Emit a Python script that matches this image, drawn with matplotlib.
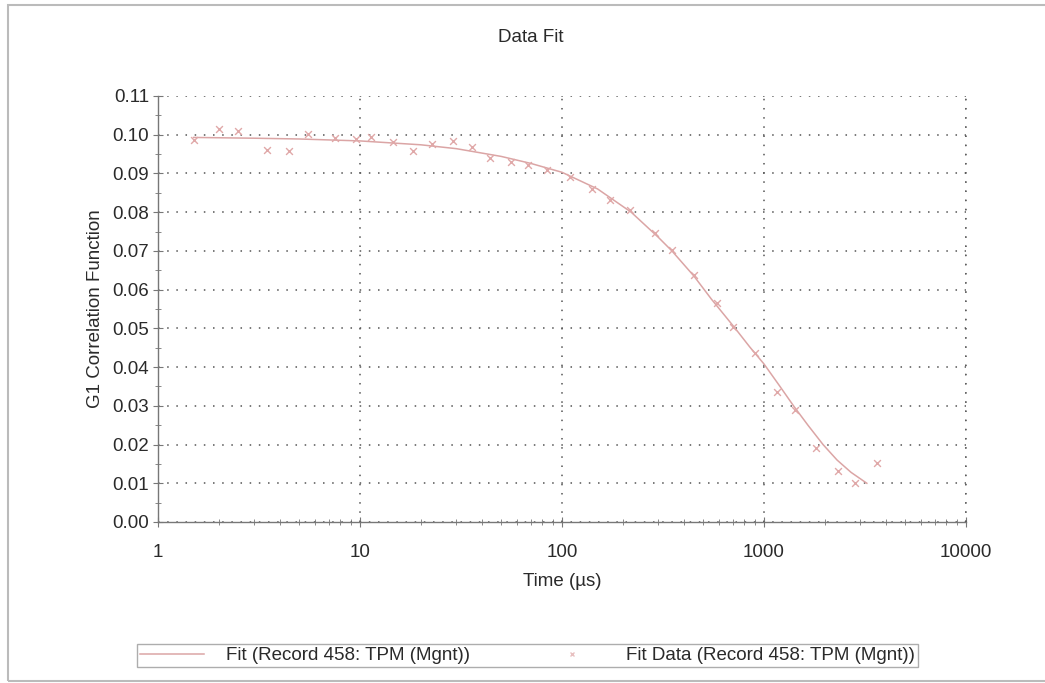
import numpy as np
import matplotlib
matplotlib.use("Agg")
import matplotlib.pyplot as plt
from matplotlib.ticker import LogLocator, MultipleLocator, FixedLocator, NullFormatter
from matplotlib.lines import Line2D
from matplotlib.patches import Rectangle

plt.rcParams['font.family'] = ['Liberation Sans', 'DejaVu Sans']

# measured points (time in us, G1)
data_t = [1.5, 2.0, 2.5, 3.45, 4.45, 5.5, 7.5, 9.6, 11.4, 14.5, 18.3, 22.6, 28.8, 36,
          44, 56, 68, 84, 110, 140, 173, 217, 288, 350, 448, 583, 705, 902, 1156,
          1423, 1800, 2312, 2820, 3615]
data_g = [0.0986, 0.1015, 0.1010, 0.0960, 0.0957, 0.1001, 0.0991, 0.0989, 0.0993,
          0.0982, 0.0957, 0.0975, 0.0983, 0.0968, 0.0940, 0.0930, 0.0922, 0.0909,
          0.0892, 0.0859, 0.0831, 0.0806, 0.0747, 0.0702, 0.0638, 0.0565, 0.0504,
          0.0436, 0.0336, 0.0289, 0.0190, 0.0132, 0.0101, 0.0153]

# fit curve
fit_t = [1.5, 3, 5, 10, 20, 30, 50, 70, 100, 150, 220, 300, 350, 450, 550, 720,
         850, 1000, 1200, 1400, 1650, 1960, 2300, 2700, 3230]
fit_g = [0.0993, 0.0991, 0.0989, 0.0984, 0.0974, 0.0964, 0.0944, 0.0926, 0.0903,
         0.0860, 0.0800, 0.0735, 0.0700, 0.0635, 0.0575, 0.0500, 0.0452, 0.0408,
         0.0350, 0.0300, 0.0250, 0.0200, 0.0160, 0.0128, 0.0100]

W, H = 1045, 683
FS = 13.5
txt_col = '#2a2a2a'
fig = plt.figure(figsize=(W / 100, H / 100), dpi=100)
ax = fig.add_axes([158 / W, 1 - 522 / H, (966 - 158) / W, (522 - 96) / H])

line_col = '#dba5a5'
ax.plot(fit_t, fit_g, color=line_col, lw=1.1, zorder=3)
ax.scatter(data_t, data_g, marker='x', s=24, color='#e0a8a8', linewidths=1.0, zorder=4)

ax.set_xscale('log')
ax.set_xlim(1, 10000)
ax.set_ylim(0, 0.11)
ax.xaxis.set_major_locator(FixedLocator([1, 10, 100, 1000, 10000]))
ax.set_xticklabels(['1', '10', '100', '1000', '10000'])
ax.xaxis.set_minor_locator(LogLocator(base=10, subs=np.arange(2, 10)))
ax.xaxis.set_minor_formatter(NullFormatter())
ax.yaxis.set_major_locator(MultipleLocator(0.01))
ax.yaxis.set_minor_locator(MultipleLocator(0.005))
ax.yaxis.set_major_formatter(matplotlib.ticker.FormatStrFormatter('%.2f'))

for s in ['top', 'right']:
    ax.spines[s].set_visible(False)
for s in ['left', 'bottom']:
    ax.spines[s].set_color('#777777')
    ax.spines[s].set_linewidth(1.0)

ax.tick_params(which='major', direction='inout', length=7, width=0.8, color='#777777',
               labelsize=FS, labelcolor=txt_col)
ax.tick_params(axis='x', which='major', pad=12)
ax.tick_params(axis='y', which='major', pad=3)
ax.tick_params(which='minor', direction='inout', length=5, width=0.7, color='#888888')
ax.grid(which='major', linestyle=(0, (1, 5)), color='#555555', linewidth=1.1)

# right boundary gridline at 10000
ax.axvline(10000, linestyle=(0, (1, 5)), color='#555555', linewidth=1.1, clip_on=False)

ax.set_xlabel('Time (µs)', fontsize=FS, color=txt_col, labelpad=9)
ax.set_ylabel('G1 Correlation Function', fontsize=FS, color=txt_col, labelpad=6)

fig.text(531 / W, 1 - 38 / H, 'Data Fit', ha='center', va='center', fontsize=FS,
         color=txt_col)

# outer frame
fig.patches.append(Rectangle((8 / W, 2 / H), 1.2, 1 - 7 / H, transform=fig.transFigure,
                             fill=False, edgecolor='#bbbbbb', linewidth=1.5))

# legend
handles = [Line2D([], [], color=line_col, lw=1.1),
           Line2D([], [], color='#e8c0c0', marker='x', ls='none', markersize=3)]
labels = ['Fit (Record 458: TPM (Mgnt))', 'Fit Data (Record 458: TPM (Mgnt))']
leg = fig.legend(handles, labels, ncol=2, mode='expand', loc='lower left',
                 bbox_to_anchor=(137 / W, 1 - 667 / H, (918 - 137) / W, 28 / H),
                 fontsize=FS, frameon=True, fancybox=False, borderaxespad=0,
                 handlelength=3.4, handletextpad=1.2, borderpad=0.15)
leg.get_frame().set_edgecolor('#999999')
leg.get_frame().set_linewidth(1.0)
for t in leg.get_texts():
    t.set_color(txt_col)

fig.savefig('out.png', dpi=100)
